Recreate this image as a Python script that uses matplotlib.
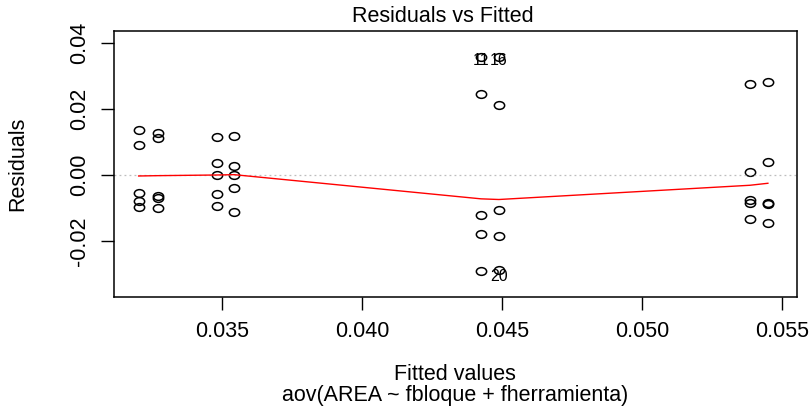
import matplotlib
matplotlib.use("Agg")
import matplotlib.pyplot as plt
import numpy as np
from matplotlib.path import Path
from matplotlib.transforms import Affine2D

plt.rcParams["font.family"] = ["Liberation Sans", "DejaVu Sans"]

# fitted value of each group (8 groups of 5 observations)
fitted_levels = [0.03202, 0.03270, 0.03481, 0.03543, 0.04425, 0.04489, 0.05386, 0.05450]

# residuals, one list per fitted level
res_g1 = [0.0136, 0.0091, -0.0055, -0.0080, -0.0096]
res_g2 = [0.0126, 0.0111, -0.0063, -0.0070, -0.0099]
res_g3 = [0.0114, 0.0035, 0.0000, -0.0058, -0.0093]
res_g4 = [0.0118, 0.0028, 0.0000, -0.0040, -0.0111]
res_g5 = [0.0357, 0.0245, -0.0121, -0.0179, -0.0291]
res_g6 = [0.0356, 0.0211, -0.0106, -0.0184, -0.0286]
res_g7 = [0.0274, 0.0008, -0.0075, -0.0085, -0.0133]
res_g8 = [0.0282, 0.0038, -0.0085, -0.0088, -0.0146]
groups = [res_g1, res_g2, res_g3, res_g4, res_g5, res_g6, res_g7, res_g8]

# lowess smoother value at each fitted level (red line)
smooth_vals = [-0.0003, -0.0002, 0.0000, 0.0001, -0.0072, -0.0074, -0.0031, -0.0025]

# labelled extreme observations: (label, group index, residual)
id_labels = ["11", "16", "20"]
id_group = [4, 5, 5]
id_res = [0.0357, 0.0356, -0.0286]

x = np.concatenate([[f] * len(g) for f, g in zip(fitted_levels, groups)])
y = np.concatenate(groups)

W, H = 810, 407
fig = plt.figure(figsize=(W / 100, H / 100), dpi=100)
ax = fig.add_axes([114 / W, 1 - 297 / H, (797 - 114) / W, (297 - 31) / H])

# slightly flattened open circle, like the stretched R output
ell = Path.unit_circle().transformed(Affine2D().scale(1.0, 0.75))
ax.plot(x, y, linestyle="none", marker=ell, markersize=7.4,
        markerfacecolor="none", markeredgecolor="black", markeredgewidth=1.1)

ax.axhline(0, color="#bebebe", linestyle=(0, (1.5, 2.5)), linewidth=0.9)
ax.plot(fitted_levels, smooth_vals, color="red", linewidth=1.0)

for lab, gi, r in zip(id_labels, id_group, id_res):
    dy = -2.5 if r > 0 else -5
    ax.annotate(lab, (fitted_levels[gi], r), xytext=(0, dy), textcoords="offset points",
                ha="center", va="center", fontsize=11.5)

ax.set_xlim(0.03114, 0.05554)
ax.set_ylim(-0.03684, 0.04348)
ax.set_xticks([0.035, 0.040, 0.045, 0.050, 0.055])
ax.set_xticklabels(["0.035", "0.040", "0.045", "0.050", "0.055"])
ax.set_yticks([-0.02, 0.0, 0.02, 0.04])
ax.set_yticklabels(["-0.02", "0.00", "0.02", "0.04"], rotation=90, va="center")
ax.tick_params(direction="out", length=9.5, width=1.0, labelsize=15.5, pad=8)
for s in ax.spines.values():
    s.set_linewidth(1.1)

fig.text(443 / W, 1 - 16 / H, "Residuals vs Fitted", ha="center", va="center", fontsize=15.5)
fig.text(455 / W, 1 - 375 / H, "Fitted values", ha="center", va="center", fontsize=15.5)
fig.text(455 / W, 1 - 396 / H, "aov(AREA ~ fbloque + fherramienta)", ha="center", va="center", fontsize=15.5)
fig.text(18 / W, 1 - 164 / H, "Residuals", ha="center", va="center", rotation=90, fontsize=15.5)

fig.savefig("out.png", dpi=100)
